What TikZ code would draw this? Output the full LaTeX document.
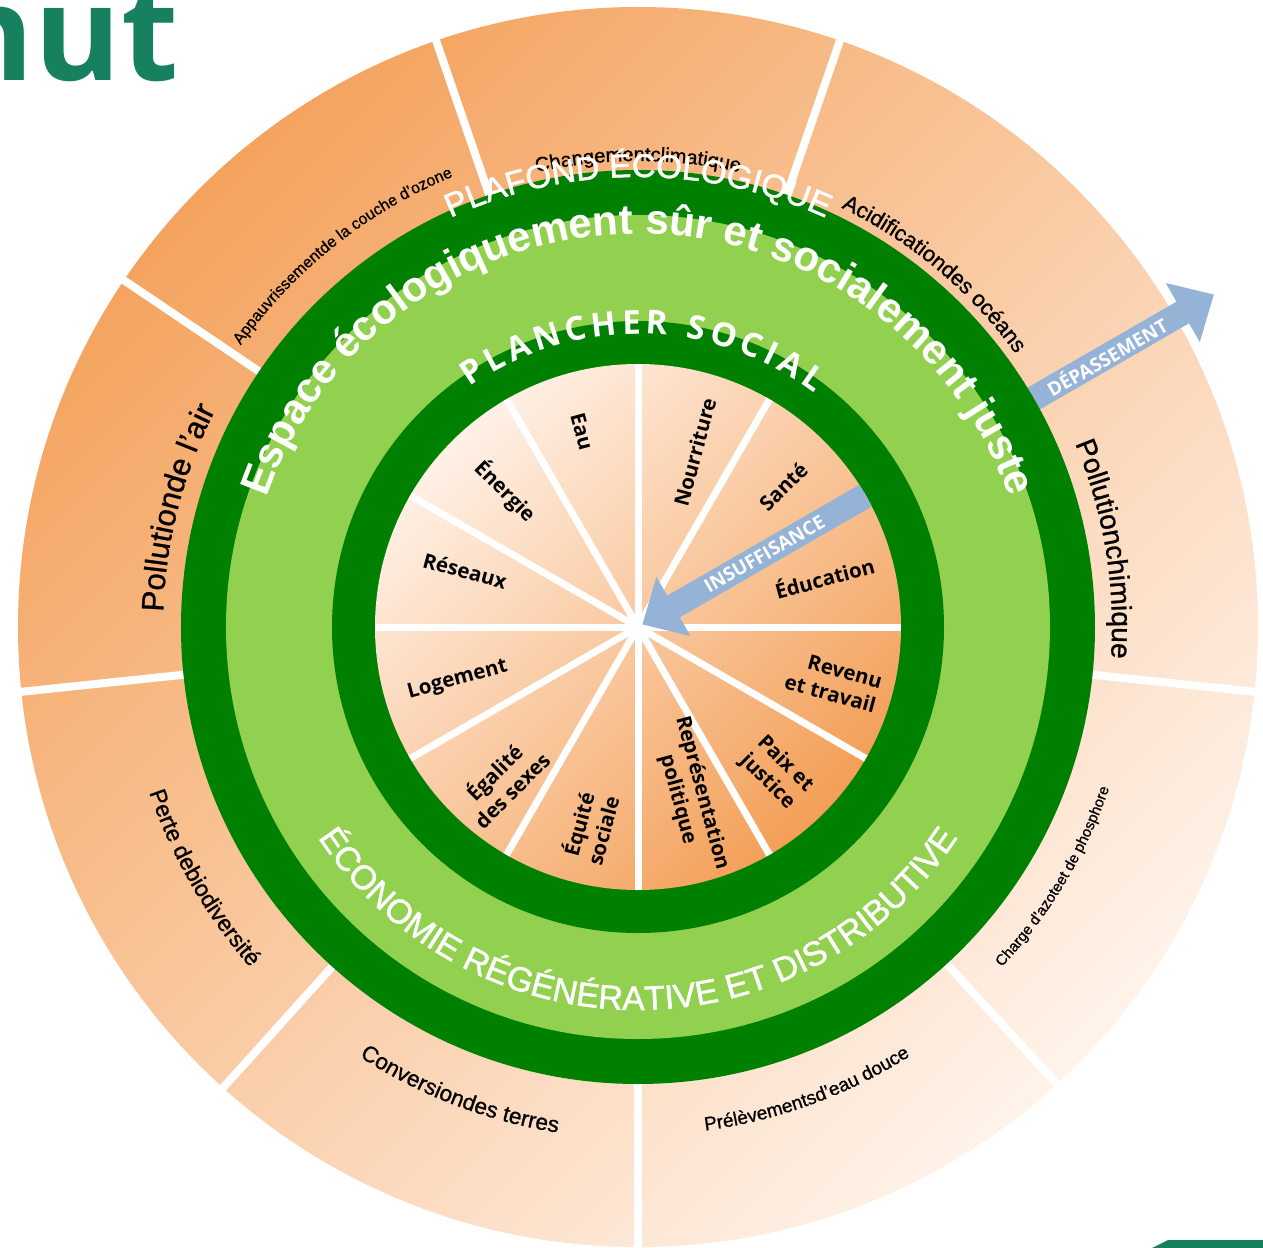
\documentclass[tikz,border=0pt]{standalone}
\usepackage{fontspec}
\setmainfont{Liberation Sans}
\newfontfamily\osans{Open Sans}
\newfontfamily\ringsans[FakeBold=1.4]{Liberation Sans}
\newfontfamily\boundsans[FakeBold=0.9]{Liberation Sans}
\usetikzlibrary{arrows.meta,decorations.text}
\definecolor{darkgreen}{HTML}{008000}
\definecolor{lightgreen}{HTML}{92D050}
\definecolor{arrowblue}{HTML}{95B3D7}
\definecolor{titlegreen}{HTML}{16805F}
\definecolor{ceilingdark}{HTML}{F4A35E}
\definecolor{ceilinglight}{HTML}{FFF3EA}
\definecolor{floorlight}{HTML}{FFF1E6}
\definecolor{floordark}{HTML}{F39F57}
\newcommand{\pxsize}[1]{\fontsize{#1}{#1}\selectfont}
\begin{document}
\begin{tikzpicture}[x=1pt,y=1pt,
    spoke/.style={white,line width=8pt},
    social/.style={font=\osans\bfseries\fontsize{20.5}{25}\selectfont,align=center,inner sep=0pt},
    arrowband/.style={arrowblue,line width=25pt,-{Triangle[width=66pt,length=36pt]}},
    arrowlabel/.style={text=white,font=\osans\bfseries\pxsize{19},rotate=30,inner sep=0pt},
    curved/.style={decorate,decoration={text along path,text align=center,text={#1}}}]
      \useasboundingbox (-638,-620) rectangle (625,627);
      \coordinate (c) at (0,0);
      \shade[top color=ceilingdark,bottom color=ceilinglight,shading angle=45] (c) circle[radius=620pt];
      \foreach \a in {30,71,109,146,186,228,270,312.5,354}
        \draw[spoke] (\a:440) -- (\a:640);
      \coordinate (dep1) at (30:440);
      \coordinate (dep2) at (30:665);
      \draw[arrowband] (dep1) -- (dep2);
      \node (dep) at (30:541) [arrowlabel] {DÉPASSEMENT};
      \fill[darkgreen] (c) circle[radius=457pt];
      \fill[lightgreen] (c) circle[radius=412pt];
      \fill[darkgreen] (c) circle[radius=306pt];
      \shade[top color=floorlight,bottom color=floordark,shading angle=45] (c) circle[radius=263pt];
      \foreach \a in {0,30,...,330}
        \draw[spoke,line width=7pt] (c) -- (\a:263);
      \coordinate (ins1) at (30:300);
      \coordinate (ins2) at (30:5);
      \begin{scope}
        \clip (c) circle[radius=263pt];
        \draw[arrowband] (ins1) -- (ins2);
      \end{scope}
      \node (ins) at (30:146) [arrowlabel] {INSUFFISANCE};
      \node (eau) at (106:203) [social,rotate=-75] {Eau};
      \node (nourriture) at (72:184) [social,rotate=75] {Nourriture};
      \node (sante) at (44:202) [social,rotate=45] {Santé};
      \node (education) at (15:193) [social,rotate=15] {Éducation};
      \node (revenu) at (-15.6:203) [social,rotate=-15,align=right] {Revenu\\et travail};
      \node (paix) at (-46.6:201) [social,rotate=-45] {Paix et\\justice};
      \node (representation) at (-73:177) [social,rotate=-75] {Représentation\\politique};
      \node (equite) at (256.4:206) [social,rotate=75] {Équité\\sociale};
      \node (egalite) at (228.5:205) [social,rotate=45] {Égalité\\des sexes};
      \node (logement) at (196.4:188) [social,rotate=15] {Logement};
      \node (reseaux) at (162:182) [social,rotate=-15] {Réseaux};
      \node (energie) at (134.4:190) [social,rotate=-45] {Énergie};
      \path[curved={|\boundsans\pxsize{20}|Changementclimatique}] (130:466) arc[start angle=130,end angle=50,radius=466pt];
      \path[curved={|\boundsans\pxsize{16}|Appauvrissementde la couche d’ozone}] (160:487) arc[start angle=160,end angle=97,radius=487pt];
      \path[curved={|\boundsans\pxsize{22}|Acidificationdes océans}] (80:466) arc[start angle=80,end angle=20,radius=466pt];
      \path[curved={|\boundsans\pxsize{28}|Pollutionchimique}] (40:474) arc[start angle=40,end angle=-21,radius=474pt];
      \path[curved={|\boundsans\pxsize{31}|Pollutionde l’air}] (195:475) arc[start angle=195,end angle=136,radius=475pt];
      \path[curved={|\boundsans\pxsize{15}|Charge d’azoteet de phosphore}] (-60:498) arc[start angle=-60,end angle=-2,radius=498pt];
      \path[curved={|\boundsans\pxsize{19}|Prélèvementsd’eau douce}] (-100:508) arc[start angle=-100,end angle=-40,radius=508pt];
      \path[curved={|\boundsans\pxsize{22.5}|Conversiondes terres}] (220:512) arc[start angle=220,end angle=278,radius=512pt];
      \path[curved={|\boundsans\pxsize{23}|Perte debiodiversité}] (180:516) arc[start angle=180,end angle=240,radius=516pt];
      \path[curved={|\ringsans\pxsize{33}\color{white}|PLAFOND ÉCOLOGIQUE}] (130:450) arc[start angle=130,end angle=50,radius=450pt];
      \path[curved={|\bfseries\pxsize{42}\color{white}|Espace écologiquement sûr et socialement juste}] (175:393) arc[start angle=175,end angle=5,radius=393pt];
      \path[curved={|\ringsans\pxsize{34}\color{white}|ÉCONOMIE RÉGÉNÉRATIVE ET DISTRIBUTIVE}] (200:383) arc[start angle=200,end angle=340,radius=383pt];
      \path[decorate,decoration={text along path,text align={fit to path},text={|\osans\bfseries\pxsize{33}\color{white}|PLANCHER SOCIAL}}] (125:293) arc[start angle=125,end angle=53,radius=293pt];
      \node (title) at (-459,546) [anchor=base east,inner sep=0pt,text=titlegreen,font=\osans\bfseries\pxsize{132}] {nut};
      \fill[titlegreen] (496,-630) -- (530,-613) -- (630,-613) -- (630,-630) -- cycle;
\end{tikzpicture}
\end{document}
